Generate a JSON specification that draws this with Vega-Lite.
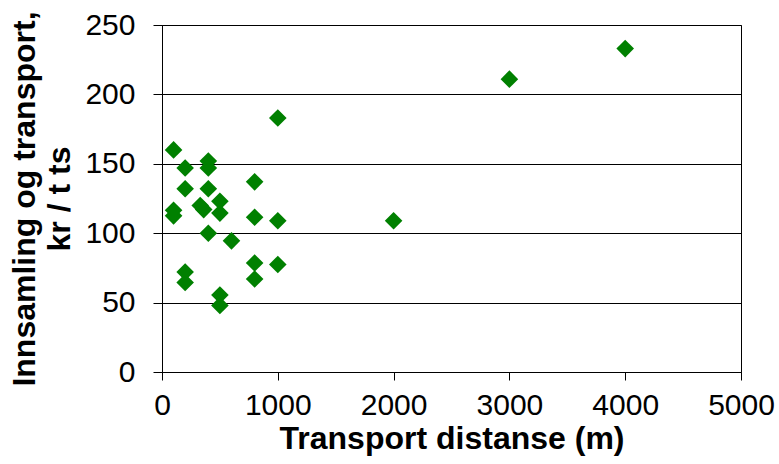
{
  "$schema": "https://vega.github.io/schema/vega-lite/v6.json",
  "autosize": {"type": "none"},
  "padding": {"left": 162, "top": 25, "right": 38, "bottom": 93},
  "width": 579,
  "height": 347,
  "background": "white",
  "config": {
    "view": {"stroke": "black", "strokeWidth": 1},
    "font": "Liberation Sans"
  },
  "data": {
    "values": [
      {"d": 100, "c": 160},
      {"d": 200, "c": 147},
      {"d": 400, "c": 152},
      {"d": 400, "c": 147},
      {"d": 800, "c": 137},
      {"d": 200, "c": 132},
      {"d": 400, "c": 132},
      {"d": 500, "c": 123},
      {"d": 100, "c": 116.5},
      {"d": 100, "c": 112.5},
      {"d": 330, "c": 120},
      {"d": 360, "c": 117},
      {"d": 500, "c": 114.5},
      {"d": 800, "c": 111.5},
      {"d": 1000, "c": 109},
      {"d": 400, "c": 100},
      {"d": 600, "c": 94.5},
      {"d": 800, "c": 78.5},
      {"d": 1000, "c": 77.5},
      {"d": 800, "c": 67},
      {"d": 200, "c": 72},
      {"d": 200, "c": 64.5},
      {"d": 500, "c": 55.5},
      {"d": 500, "c": 48},
      {"d": 1000, "c": 183},
      {"d": 2000, "c": 109},
      {"d": 3000, "c": 211},
      {"d": 4000, "c": 233}
    ]
  },
  "mark": {"type": "point", "shape": "diamond", "filled": true, "color": "#008000", "opacity": 1, "size": 310},
  "encoding": {
    "x": {
      "field": "d", "type": "quantitative",
      "scale": {"domain": [0, 5000], "nice": false, "zero": true},
      "axis": {
        "title": "Transport distanse (m)",
        "values": [0, 1000, 2000, 3000, 4000, 5000],
        "format": "d",
        "grid": false,
        "domainColor": "black", "domainWidth": 1,
        "tickColor": "black", "tickSize": 8, "tickWidth": 1,
        "labelFontSize": 30, "labelColor": "black", "labelPadding": 10,
        "labelFlush": false, "labelOverlap": false,
        "titleFontSize": 32, "titleFontWeight": "bold", "titleColor": "black", "titlePadding": 3
      }
    },
    "y": {
      "field": "c", "type": "quantitative",
      "scale": {"domain": [0, 250], "nice": false},
      "axis": {
        "title": ["Innsamling og transport,", "kr / t ts"],
        "values": [0, 50, 100, 150, 200, 250],
        "grid": true, "gridColor": "black", "gridWidth": 1, "gridOpacity": 1,
        "domainColor": "black", "domainWidth": 1,
        "tickColor": "black", "tickSize": 9, "tickWidth": 1,
        "labelFontSize": 30, "labelColor": "black", "labelPadding": 18,
        "labelFlush": false, "labelOverlap": false,
        "titleFontSize": 32, "titleFontWeight": "bold", "titleColor": "black", "titlePadding": 8, "titleLineHeight": 35
      }
    }
  }
}
